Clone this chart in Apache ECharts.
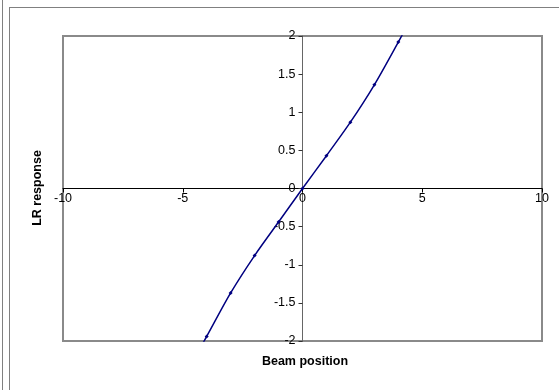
<!DOCTYPE html>
<html>
<head>
<meta charset="utf-8">
<script src="https://cdn.jsdelivr.net/npm/echarts@6/dist/echarts.min.js"></script>
<style>
body{margin:0;background:#fff;}
#chart{width:559px;height:390px;}
</style>
</head>
<body>
<div id="chart"></div>
<script>
// beam position vs LR response
var beamPos = [-5, -4, -3, -2, -1, 0, 1, 2, 3, 4, 5]
var lrResp = [-2.5, -1.94, -1.37, -0.88, -0.44, 0, 0.43, 0.87, 1.36, 1.92, 2.5]

var chart = echarts.init(document.getElementById('chart'))
chart.setOption({
  animation: false,
  grid: {
    left: 63, right: 17, top: 36, bottom: 49,
    show: true,
    borderColor: '#8a8a8a',
    borderWidth: 2,
    backgroundColor: '#fff'
  },
  xAxis: {
    type: 'value',
    min: -10, max: 10, interval: 5,
    position: 'bottom',
    offset: -152.5,  // move axis up to y = 0
    axisLine: {onZero: false, lineStyle: {color: '#000', width: 1}},
    axisTick: {show: true, length: 4, lineStyle: {color: '#000'}},
    axisLabel: {color: '#000', fontSize: 12.5, fontFamily: 'Liberation Sans', margin: 4},
    splitLine: {show: false}
  },
  yAxis: {
    type: 'value',
    min: -2, max: 2, interval: 0.5,
    position: 'left',
    offset: -239.5,  // move axis right to x = 0
    axisLine: {onZero: false, lineStyle: {color: '#666', width: 1}},
    axisTick: {show: true, length: 4, lineStyle: {color: '#333'}},
    axisLabel: {color: '#000', fontSize: 12.5, fontFamily: 'Liberation Sans', margin: 7},
    splitLine: {show: false}
  },
  series: [{
    type: 'line',
    data: beamPos.map(function (x, i) { return [x, lrResp[i]] }),
    smooth: 0.3,
    clip: true,
    symbol: 'diamond',
    symbolSize: 4,
    showSymbol: true,
    itemStyle: {color: '#000080'},
    lineStyle: {color: '#000080', width: 1.5}
  }],
  graphic: [
    {type: 'line', shape: {x1: 2.5, y1: 0, x2: 2.5, y2: 390}, style: {stroke: '#808080', lineWidth: 1}},
    {type: 'line', shape: {x1: 9.5, y1: 7, x2: 9.5, y2: 390}, style: {stroke: '#808080', lineWidth: 1}},
    {type: 'line', shape: {x1: 9, y1: 7.5, x2: 559, y2: 7.5}, style: {stroke: '#808080', lineWidth: 1}},
    {
      type: 'text', x: 305, y: 362,
      style: {text: 'Beam position', font: 'bold 12.5px "Liberation Sans"', fill: '#000', align: 'center', verticalAlign: 'middle'}
    },
    {
      type: 'text', x: 38, y: 188, rotation: Math.PI / 2,
      style: {text: 'LR response', font: 'bold 12.5px "Liberation Sans"', fill: '#000', align: 'center', verticalAlign: 'middle'}
    }
  ]
})
</script>
</body>
</html>
